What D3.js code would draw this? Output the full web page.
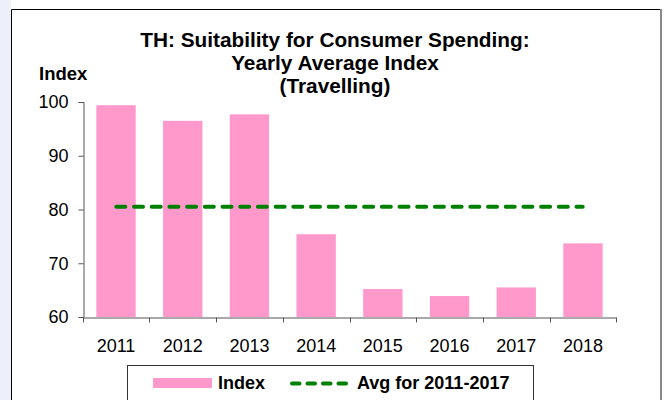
<!DOCTYPE html>
<html>
<head>
<meta charset="utf-8">
<title>TH: Suitability for Consumer Spending</title>
<script src="https://cdn.jsdelivr.net/npm/d3@7"></script>
<style>
    html, body { margin: 0; padding: 0; background: #ffffff; }
    svg { display: block; font-family: Arial, "Liberation Sans", sans-serif; }
    .domain, .tick line { stroke: #555555; }
</style>
</head>
<body>
<script>
//chart data
var years = ["2011", "2012", "2013", "2014", "2015", "2016", "2017", "2018"];
var indexValues = [99.4, 96.5, 97.7, 75.4, 65.2, 63.9, 65.5, 73.7];
var avgValues = [80.5, 80.5, 80.5, 80.5, 80.5, 80.5, 80.5, 80.5];
var yTicks = [60, 70, 80, 90, 100];
var titleLines = ["TH: Suitability for Consumer Spending:", "Yearly Average Index", "(Travelling)"];
var legendLabels = ["Index", "Avg for 2011-2017"];

(function(){

window.onload = drawChart();

function drawChart(){
    //frame dimensions
    var width = 668,
        height = 400;

    var margin = {top: 102, right: 52, bottom: 83, left: 83};

    var svg = d3.select("body")
        .append("svg")
        .attr("width", width)
        .attr("height", height);

    //pale strip at the far left, outside the chart box
    svg.append("rect")
        .attr("x", 0)
        .attr("y", 0)
        .attr("width", 11)
        .attr("height", height)
        .attr("fill", "#eef0f9");

    //outer chart box
    svg.append("path")
        .attr("d", "M11.5,420 V9.5 H660")
        .attr("fill", "none")
        .attr("stroke", "#000");
    svg.append("line")
        .attr("x1", 661).attr("x2", 661)
        .attr("y1", 9).attr("y2", height)
        .attr("stroke", "#888")
        .attr("stroke-width", 2);

    //scales
    var x = d3.scaleBand()
        .domain(years)
        .range([margin.left, width - margin.right])
        .paddingInner(0.41)
        .paddingOuter(0.2);

    var xLine = d3.scalePoint()
        .domain(years)
        .range([margin.left, width - margin.right])
        .padding(0.5);

    var y = d3.scaleLinear()
        .domain([60, 100])
        .range([height - margin.bottom, margin.top]);

    //bars
    svg.selectAll(".bar")
        .data(indexValues)
        .enter()
        .append("rect")
        .attr("class", "bar")
        .attr("x", function(d, i){ return x(years[i]); })
        .attr("y", function(d){ return y(d); })
        .attr("width", x.bandwidth())
        .attr("height", function(d){ return y(60) - y(d); })
        .attr("fill", "#ff99cc");

    //average line
    var line = d3.line()
        .x(function(d, i){ return xLine(years[i]); })
        .y(function(d){ return y(d); });

    svg.append("path")
        .datum(avgValues)
        .attr("d", line)
        .attr("fill", "none")
        .attr("stroke", "#008000")
        .attr("stroke-width", 4)
        .attr("stroke-linecap", "round")
        .attr("stroke-dasharray", "9,8.7");

    //y axis
    var yAxis = svg.append("g")
        .attr("transform", "translate(" + (margin.left + 0.5) + ",0)")
        .call(d3.axisLeft(y).tickValues(yTicks).tickSize(5).tickPadding(10));

    yAxis.selectAll("text")
        .attr("fill", "#000")
        .style("font-size", "18px")
        .style("font-family", "Arial, 'Liberation Sans', sans-serif");

    //x axis, ticks sit on the band edges
    var xAxis = svg.append("g")
        .attr("transform", "translate(0," + (height - margin.bottom + 0.5) + ")")
        .call(d3.axisBottom(x).tickSize(0).tickPadding(22));

    xAxis.selectAll("text")
        .attr("fill", "#000")
        .style("font-size", "18px")
        .style("font-family", "Arial, 'Liberation Sans', sans-serif");

    var edges = years.map(function(yr){ return x(yr) - x.step() * x.paddingInner() / 2; });
    edges.push(width - margin.right);
    edges[0] = margin.left;

    xAxis.selectAll(".edgeTick")
        .data(edges)
        .enter()
        .append("line")
        .attr("class", "edgeTick")
        .attr("x1", function(d){ return Math.round(d) + 0.5; })
        .attr("x2", function(d){ return Math.round(d) + 0.5; })
        .attr("y1", 0)
        .attr("y2", 5)
        .attr("stroke", "#555");

    //axis title
    svg.append("text")
        .attr("x", 39)
        .attr("y", 80)
        .style("font-size", "18.5px")
        .style("font-weight", "bold")
        .text("Index");

    //chart title
    svg.selectAll(".title")
        .data(titleLines)
        .enter()
        .append("text")
        .attr("class", "title")
        .attr("x", 335)
        .attr("y", function(d, i){ return 47 + i * 23; })
        .attr("text-anchor", "middle")
        .style("font-size", "20.8px")
        .style("font-weight", "bold")
        .text(function(d){ return d; });

    //legend
    var legend = svg.append("g");

    legend.append("rect")
        .attr("x", 127.5)
        .attr("y", 365.5)
        .attr("width", 406)
        .attr("height", 60)
        .attr("fill", "#fff")
        .attr("stroke", "#333");

    legend.append("rect")
        .attr("x", 153)
        .attr("y", 378)
        .attr("width", 59)
        .attr("height", 10)
        .attr("fill", "#ff99cc");

    legend.append("line")
        .attr("x1", 292)
        .attr("x2", 350)
        .attr("y1", 383.5)
        .attr("y2", 383.5)
        .attr("stroke", "#008000")
        .attr("stroke-width", 4)
        .attr("stroke-linecap", "round")
        .attr("stroke-dasharray", "7.5,8");

    legend.selectAll(".legendText")
        .data(legendLabels)
        .enter()
        .append("text")
        .attr("class", "legendText")
        .attr("x", function(d, i){ return i == 0 ? 218 : 357; })
        .attr("y", 388.5)
        .style("font-size", "18px")
        .style("font-weight", "bold")
        .text(function(d){ return d; });
};

})();
</script>
</body>
</html>
